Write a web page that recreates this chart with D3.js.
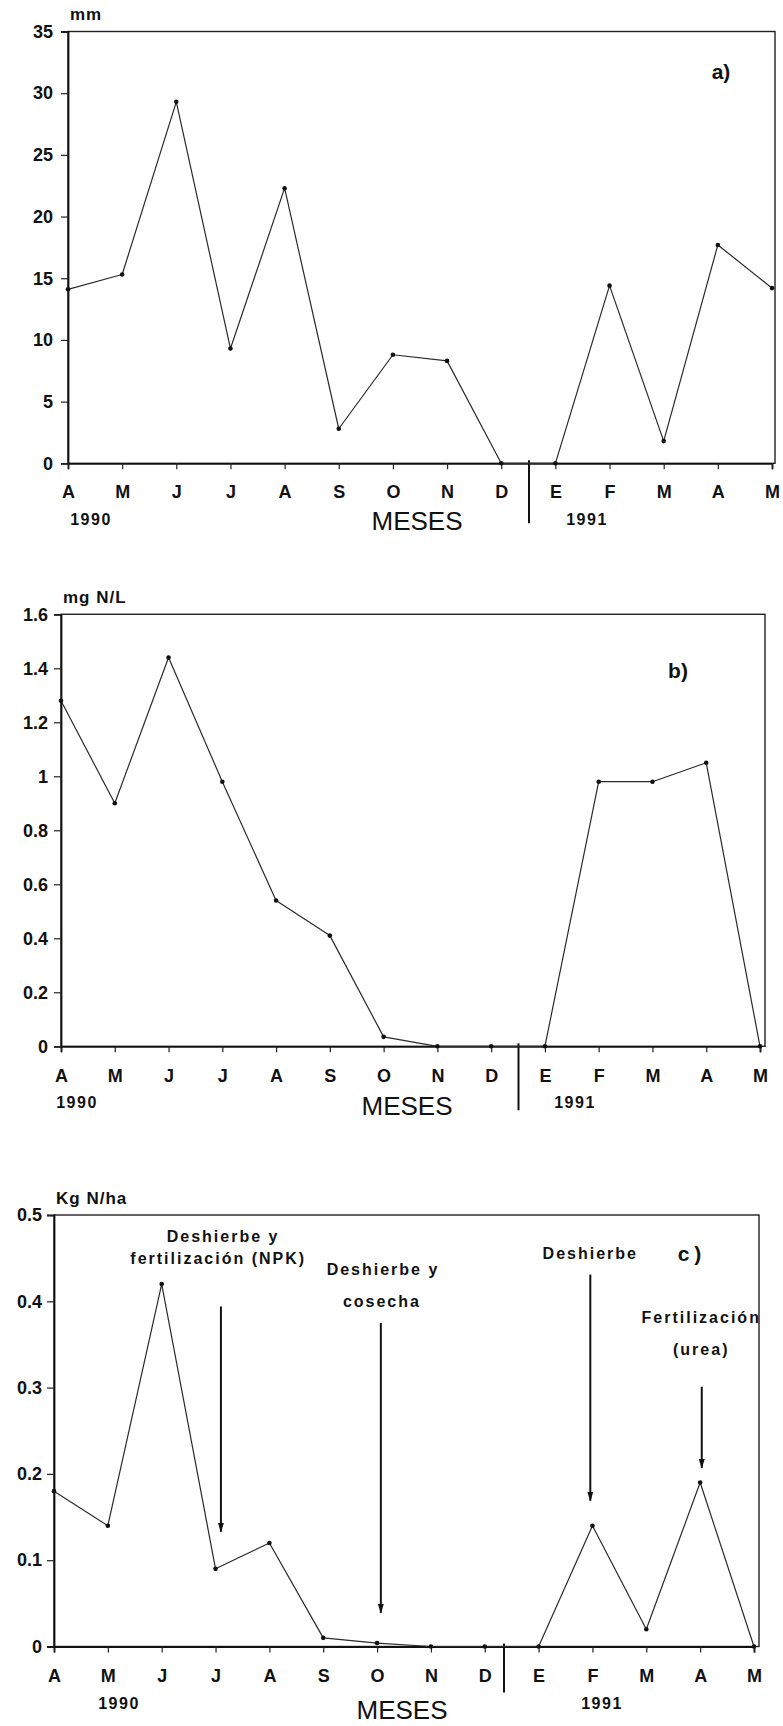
<!DOCTYPE html>
<html lang="es">
<head>
<meta charset="UTF-8">
<script src="https://d3js.org/d3.v7.min.js"></script>
<title>Precipitación y nitrógeno</title>
<style>
  body { margin: 0; background: #fff; }
  svg text { font-family: "Liberation Sans", Arial, sans-serif; fill: #111; }
</style>
</head>
<body>
<svg id="chart" width="783" height="1726"></svg>
<script>
// data
const monthsA = ["A","M","J","J","A","S","O","N","D","E","F","M","A","M"];
const monthsB = ["A","M","J","J","A","S","O","N","D","E","F","M","A","M"];
const rainfall    = [14.1, 15.3, 29.3, 9.3, 22.3, 2.8, 8.8, 8.3, 0, 0, 14.4, 1.8, 17.7, 14.2];
const nitrateConc = [1.28, 0.90, 1.44, 0.98, 0.54, 0.41, 0.035, 0, 0, 0, 0.98, 0.98, 1.05, 0];
const nitrateLoss = [0.18, 0.14, 0.42, 0.09, 0.12, 0.01, 0.004, 0, 0, 0, 0.14, 0.02, 0.19, 0];
const rainTicks = [0, 5, 10, 15, 20, 25, 30, 35];
const concTicks = [0, 0.2, 0.4, 0.6, 0.8, 1, 1.2, 1.4, 1.6];
const lossTicks = [0, 0.1, 0.2, 0.3, 0.4, 0.5];
const years = ["1990", "1991"];

// panel c notes: text lines, month index of arrow, arrow start / tip (Kg N/ha)
const noteText  = [["Deshierbe y", "fertilización (NPK)"], ["Deshierbe y", "cosecha"], ["Deshierbe"], ["Fertilización", "(urea)"]];
const noteTextX = [[3.14, 3.05], [6.11, 6.09], [9.96], [12.02, 12.02]];
const noteTextY = [[0.475, 0.45], [0.4365, 0.4], [0.455], [0.381, 0.344]];
const arrowX    = [3.1, 6.07, 9.96, 12.03];
const arrowTop  = [0.394, 0.375, 0.431, 0.301];
const arrowTip  = [0.133, 0.039, 0.169, 0.207];

const svg = d3.select("#chart");

// narrow arrow head, points along the line
svg.append("defs").append("marker")
  .attr("id", "tip")
  .attr("viewBox", "0 0 10 6")
  .attr("refX", 9).attr("refY", 3)
  .attr("markerWidth", 10).attr("markerHeight", 6)
  .attr("markerUnits", "userSpaceOnUse")
  .attr("orient", "auto")
  .append("path")
  .attr("d", "M0,0 L10,3 L0,6 Z")
  .attr("fill", "#111");

function panel(o) {
  const x = d3.scaleLinear().domain([0, 13]).range([o.left, o.right]);
  const y = d3.scaleLinear().domain([0, o.max]).range([o.bottom, o.top]);
  const g = svg.append("g");

  // frame
  g.append("rect")
    .attr("x", o.left).attr("y", o.top)
    .attr("width", o.boxRight - o.left).attr("height", o.bottom - o.top)
    .attr("fill", "none").attr("stroke", "#222").attr("stroke-width", 1.4);

  const ya = g.append("g")
    .attr("transform", `translate(${o.left},0)`)
    .call(d3.axisLeft(y).tickValues(o.ticks).tickSize(7).tickPadding(o.yPad).tickFormat(d => String(d)));
  const xa = g.append("g")
    .attr("transform", `translate(0,${o.bottom})`)
    .call(d3.axisBottom(x).tickValues(d3.range(14)).tickSize(6).tickPadding(o.xPad).tickFormat(i => o.labels[i]));

  [ya, xa].forEach(a => {
    a.attr("font-family", null).attr("font-size", null);
    a.select(".domain").attr("stroke", "#111").attr("stroke-width", 1.8);
    a.selectAll(".tick line").attr("stroke", "#222").attr("stroke-width", 1.2);
    a.selectAll("text").attr("font-size", 18).attr("font-weight", "bold").attr("fill", "#111");
  });

  // unit label
  g.append("text")
    .attr("x", o.left + 2).attr("y", o.top - 17).attr("dy", "0.35em")
    .attr("font-size", 17).attr("font-weight", "bold").attr("letter-spacing", 1)
    .text(o.unit);

  // panel tag
  g.append("text")
    .attr("x", o.tag[0]).attr("y", o.tag[1]).attr("dy", "0.35em")
    .attr("text-anchor", "middle").attr("font-size", 21).attr("font-weight", "bold")
    .attr("letter-spacing", o.tagSpace || 0)
    .text(o.tagText);

  // year break
  g.append("line")
    .attr("x1", o.divider).attr("x2", o.divider)
    .attr("y1", o.bottom - 3).attr("y2", o.bottom + o.divLen)
    .attr("stroke", "#111").attr("stroke-width", 2);

  g.selectAll(".year").data(years).join("text")
    .attr("x", (d, i) => o.yearX[i]).attr("y", o.bottom + o.yearDy).attr("dy", "0.35em")
    .attr("text-anchor", "middle").attr("font-size", 16).attr("font-weight", "bold")
    .attr("letter-spacing", 1.5)
    .text(d => d);

  g.append("text")
    .attr("x", o.mesesX).attr("y", o.bottom + o.mesesDy).attr("dy", "0.35em")
    .attr("text-anchor", "middle").attr("font-size", 26)
    .text("MESES");

  // series
  const line = d3.line().x((d, i) => x(i)).y(d => y(d));
  g.append("path").datum(o.values)
    .attr("d", line).attr("fill", "none")
    .attr("stroke", "#2a2a2a").attr("stroke-width", 1.2).attr("stroke-linejoin", "round");
  g.selectAll(".pt").data(o.values).join("circle")
    .attr("cx", (d, i) => x(i)).attr("cy", d => y(d)).attr("r", 2.3)
    .attr("fill", "#111");

  return { g, x, y };
}

panel({
  values: rainfall, max: 35, ticks: rainTicks, labels: monthsA, unit: "mm",
  left: 68, right: 772, boxRight: 775, top: 31.5, bottom: 463.3,
  yPad: 8, xPad: 16, tag: [721, 72], tagText: "a)",
  divider: 529, divLen: 60, yearX: [91, 587], yearDy: 56, mesesX: 417, mesesDy: 58
});

panel({
  values: nitrateConc, max: 1.6, ticks: concTicks, labels: monthsB, unit: "mg N/L",
  left: 61, right: 760, boxRight: 765, top: 614.3, bottom: 1046.3,
  yPad: 6, xPad: 17, tag: [678, 671], tagText: "b)",
  divider: 518.5, divLen: 64, yearX: [77, 575], yearDy: 56, mesesX: 407, mesesDy: 60
});

const c = panel({
  values: nitrateLoss, max: 0.5, ticks: lossTicks, labels: monthsA, unit: "Kg N/ha",
  left: 54, right: 754, boxRight: 759, top: 1215, bottom: 1646.5,
  yPad: 5, xPad: 17, tag: [692, 1254], tagText: "c)", tagSpace: 5,
  divider: 504, divLen: 46, yearX: [119, 602], yearDy: 56.5, mesesX: 402, mesesDy: 63
});

// management notes on panel c
noteText.forEach((lines, k) => {
  lines.forEach((t, j) => {
    c.g.append("text")
      .attr("x", c.x(noteTextX[k][j])).attr("y", c.y(noteTextY[k][j])).attr("dy", "0.35em")
      .attr("text-anchor", "middle").attr("font-size", 16).attr("font-weight", "bold")
      .attr("letter-spacing", 2)
      .text(t);
  });
  c.g.append("line")
    .attr("x1", c.x(arrowX[k])).attr("x2", c.x(arrowX[k]))
    .attr("y1", c.y(arrowTop[k])).attr("y2", c.y(arrowTip[k]))
    .attr("stroke", "#111").attr("stroke-width", 2)
    .attr("marker-end", "url(#tip)");
});
</script>
</body>
</html>
